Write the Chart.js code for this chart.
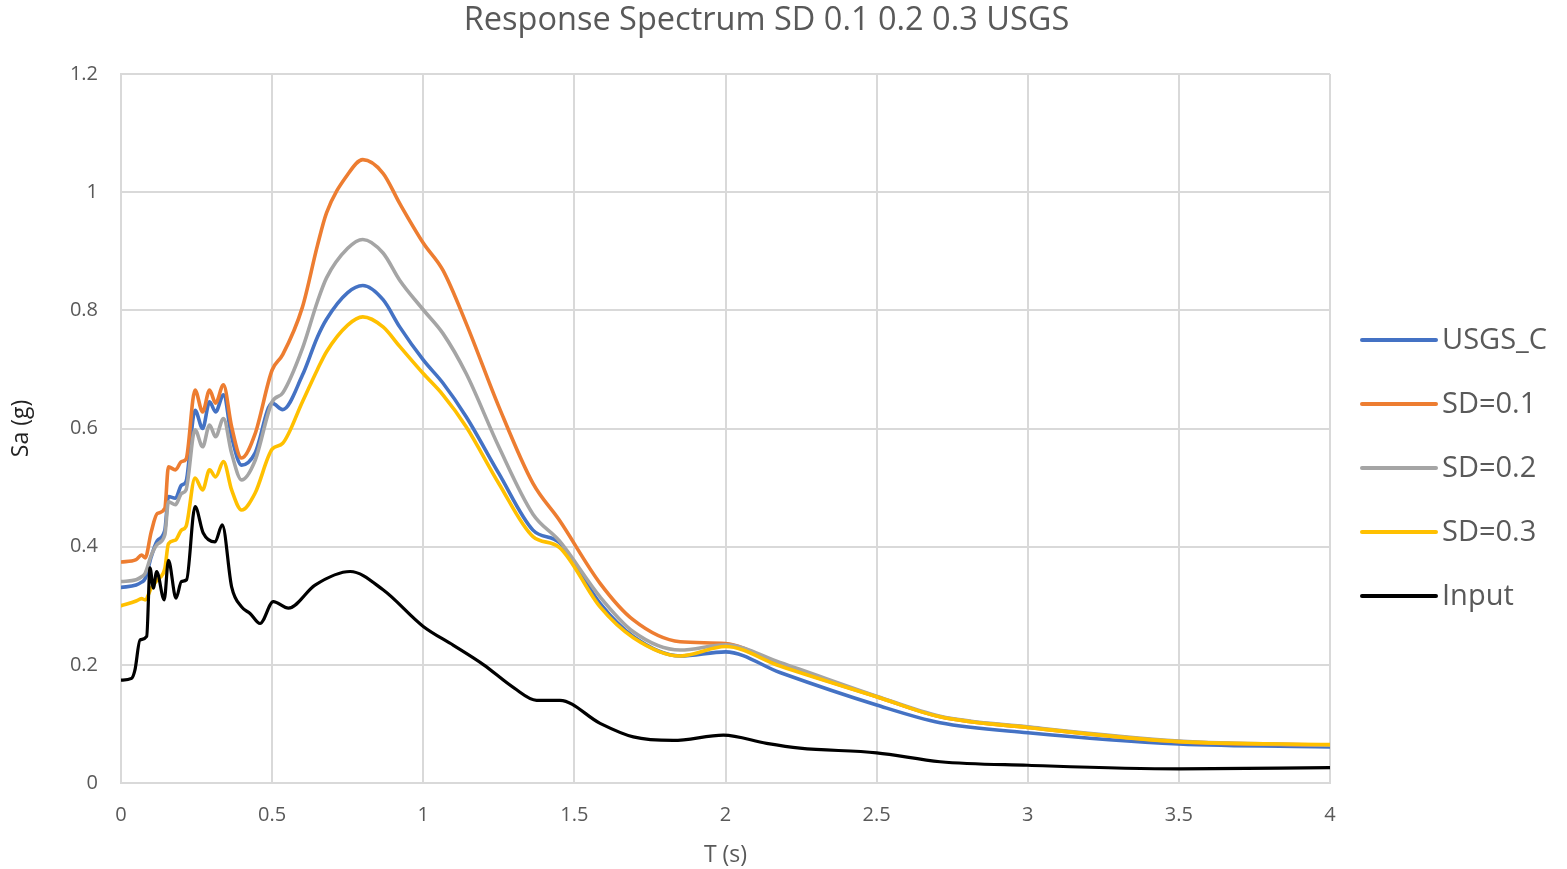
<!DOCTYPE html>
<html>
<head>
<meta charset="utf-8">
<script src="https://cdn.jsdelivr.net/npm/chart.js@4.4.0/dist/chart.umd.min.js"></script>
<style>
  html, body { margin: 0; padding: 0; background: #ffffff; }
  #wrap { width: 1567px; height: 869px; position: relative; }
</style>
</head>
<body>
<div id="wrap"><canvas id="c" width="1567" height="869"></canvas></div>
<script>
// ---- Data ----
const periods = [0, 0.05, 0.068, 0.08, 0.1, 0.12, 0.145, 0.157, 0.18, 0.2, 0.215, 0.245, 0.27, 0.293, 0.313, 0.339, 0.366, 0.399, 0.443, 0.5, 0.535, 0.6, 0.65, 0.68, 0.75, 0.8, 0.867, 0.922, 1.0, 1.065, 1.142, 1.25, 1.363, 1.45, 1.585, 1.695, 1.85, 2.0, 2.18, 2.5, 2.71, 3.0, 3.5, 4.0];

const usgsC = [0.331, 0.335, 0.340, 0.346, 0.383, 0.410, 0.428, 0.485, 0.482, 0.504, 0.510, 0.631, 0.600, 0.645, 0.628, 0.657, 0.586, 0.538, 0.558, 0.643, 0.632, 0.690, 0.755, 0.785, 0.830, 0.842, 0.818, 0.772, 0.716, 0.677, 0.620, 0.524, 0.428, 0.407, 0.304, 0.248, 0.215, 0.222, 0.187, 0.132, 0.102, 0.085, 0.066, 0.061];

const sd01 = [0.374, 0.378, 0.386, 0.381, 0.425, 0.456, 0.465, 0.535, 0.530, 0.544, 0.548, 0.665, 0.628, 0.665, 0.643, 0.674, 0.603, 0.550, 0.590, 0.699, 0.725, 0.805, 0.910, 0.965, 1.030, 1.055, 1.032, 0.981, 0.914, 0.868, 0.778, 0.637, 0.507, 0.445, 0.338, 0.276, 0.239, 0.236, 0.200, 0.146, 0.112, 0.094, 0.070, 0.064];

const sd02 = [0.341, 0.344, 0.349, 0.355, 0.385, 0.404, 0.420, 0.476, 0.471, 0.490, 0.496, 0.598, 0.569, 0.606, 0.586, 0.617, 0.558, 0.513, 0.545, 0.645, 0.660, 0.735, 0.815, 0.855, 0.905, 0.920, 0.897, 0.851, 0.801, 0.761, 0.693, 0.569, 0.455, 0.410, 0.315, 0.256, 0.225, 0.234, 0.204, 0.147, 0.113, 0.095, 0.071, 0.064];

const sd03 = [0.300, 0.308, 0.312, 0.310, 0.330, 0.344, 0.363, 0.405, 0.411, 0.428, 0.434, 0.516, 0.496, 0.530, 0.518, 0.544, 0.496, 0.462, 0.490, 0.565, 0.575, 0.645, 0.700, 0.730, 0.775, 0.789, 0.772, 0.739, 0.693, 0.657, 0.603, 0.507, 0.417, 0.399, 0.298, 0.246, 0.215, 0.231, 0.198, 0.146, 0.112, 0.094, 0.070, 0.065];

const inputPeriods = [0, 0.035, 0.046, 0.063, 0.085, 0.096, 0.107, 0.118, 0.143, 0.157, 0.182, 0.2, 0.217, 0.245, 0.272, 0.311, 0.335, 0.366, 0.399, 0.427, 0.46, 0.504, 0.554, 0.642, 0.758, 0.867, 1.0, 1.1, 1.2, 1.3, 1.375, 1.452, 1.585, 1.695, 1.827, 1.993, 2.136, 2.246, 2.5, 2.71, 3.0, 3.5, 4.0];
const inputSa = [0.174, 0.177, 0.191, 0.242, 0.248, 0.364, 0.330, 0.358, 0.310, 0.377, 0.313, 0.341, 0.344, 0.468, 0.423, 0.408, 0.437, 0.332, 0.298, 0.287, 0.270, 0.307, 0.296, 0.335, 0.358, 0.327, 0.265, 0.233, 0.200, 0.161, 0.140, 0.140, 0.101, 0.078, 0.072, 0.081, 0.067, 0.059, 0.051, 0.036, 0.030, 0.024, 0.026];

const seriesNames = ['USGS_C', 'SD=0.1', 'SD=0.2', 'SD=0.3', 'Input'];
const seriesColors = ['#4472C4', '#ED7D31', '#A5A5A5', '#FFC000', '#000000'];
const xTicks = [0, 0.5, 1, 1.5, 2, 2.5, 3, 3.5, 4];
const yTicks = [0, 0.2, 0.4, 0.6, 0.8, 1, 1.2];

const chartTitle = 'Response Spectrum SD 0.1 0.2 0.3 USGS';
const xTitle = 'T (s)';
const yTitle = 'Sa (g)';

// ---- Build datasets ----
function pts(xs, ys) { return xs.map((x, i) => ({ x: x, y: ys[i] })); }
const seriesData = [pts(periods, usgsC), pts(periods, sd01), pts(periods, sd02), pts(periods, sd03), pts(inputPeriods, inputSa)];

const datasets = seriesNames.map((name, i) => ({
  label: name,
  data: seriesData[i],
  borderColor: seriesColors[i],
  backgroundColor: seriesColors[i],
  borderWidth: i === 4 ? 3.2 : 3.6,
  pointRadius: 0,
  fill: false,
  cubicInterpolationMode: 'monotone',
  borderCapStyle: 'round',
  borderJoinStyle: 'round',
  xAxisID: 'x',
  yAxisID: 'y'
}));
datasets.forEach((d, i) => { d.order = 5 - i; });

const FONT = '"Open Sans", "Noto Sans", sans-serif';

const sideLegend = {
  id: 'sideLegend',
  afterDraw(chart) {
    const ctx = chart.ctx;
    const area = chart.chartArea;
    const x0 = area.right + 32;
    const lineLen = 74;
    const step = 64;
    const yStart = 340;
    ctx.save();
    chart.data.datasets.forEach((ds, i) => {
      const y = yStart + i * step;
      ctx.strokeStyle = ds.borderColor;
      ctx.lineWidth = 4;
      ctx.lineCap = 'round';
      ctx.beginPath();
      ctx.moveTo(x0, y);
      ctx.lineTo(x0 + lineLen, y);
      ctx.stroke();
      ctx.fillStyle = '#595959';
      ctx.font = '29px ' + FONT;
      ctx.textBaseline = 'middle';
      ctx.textAlign = 'left';
      ctx.fillText(ds.label, x0 + lineLen + 6, y + 1);
    });
    ctx.restore();
  }
};

new Chart(document.getElementById('c'), {
  type: 'line',
  data: { datasets: datasets },
  plugins: [sideLegend],
  options: {
    responsive: false,
    animation: false,
    devicePixelRatio: 1,
    layout: { padding: { left: 0, right: 34, top: 0, bottom: 0 } },
    plugins: {
      legend: { display: false },
      tooltip: { enabled: false },
      title: {
        display: true,
        text: chartTitle,
        color: '#595959',
        font: { family: FONT, size: 32.5, weight: 'normal' },
        padding: { top: 1, bottom: 34 }
      }
    },
    scales: {
      x: {
        type: 'linear',
        min: 0,
        max: 4,
        afterFit(scale) { scale.height = 86; },
        afterBuildTicks(scale) { scale.ticks = xTicks.map(v => ({ value: v })); },
        grid: { color: '#d9d9d9', lineWidth: 2, drawTicks: false },
        border: { color: '#d9d9d9', width: 2 },
        ticks: {
          color: '#595959',
          font: { family: FONT, size: 20 },
          padding: 20,
          maxRotation: 0,
          callback: v => String(v)
        },
        title: {
          display: true,
          text: xTitle,
          color: '#595959',
          font: { family: FONT, size: 23 },
          padding: { top: 0, bottom: 0 }
        }
      },
      y: {
        type: 'linear',
        position: 'left',
        min: 0,
        max: 1.2,
        afterFit(scale) { scale.width = 121; },
        afterBuildTicks(scale) { scale.ticks = yTicks.map(v => ({ value: v })); },
        grid: { color: '#d9d9d9', lineWidth: 2, drawTicks: false },
        border: { color: '#d9d9d9', width: 2 },
        ticks: {
          color: '#595959',
          font: { family: FONT, size: 20 },
          padding: 23,
          callback: v => String(v)
        },
        title: {
          display: true,
          text: yTitle,
          color: '#222222',
          font: { family: FONT, size: 23 },
          padding: { top: 8, bottom: 0 }
        }
      },
      legendSpace: {
        type: 'linear',
        position: 'right',
        display: true,
        afterFit(scale) { scale.width = 203; },
        grid: { display: false, drawTicks: false },
        border: { display: false },
        ticks: { display: false },
        title: { display: false }
      }
    }
  }
});
</script>
</body>
</html>
